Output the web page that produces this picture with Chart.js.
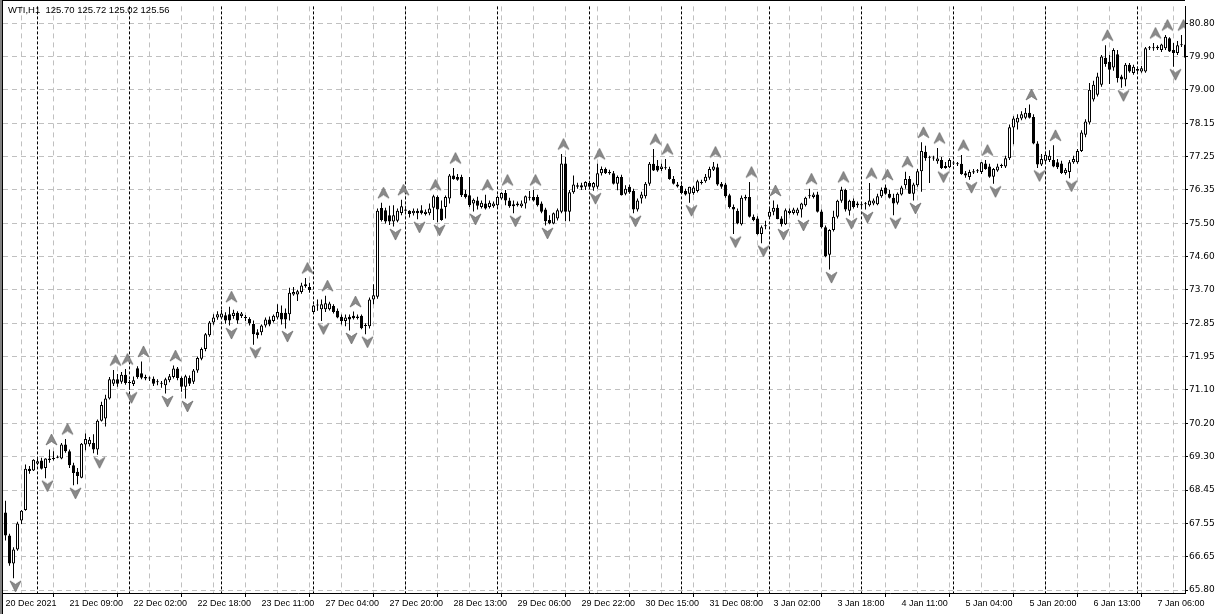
<!DOCTYPE html>
<html lang="en">
<head>
<meta charset="UTF-8">
<meta name="viewport" content="width=device-width, initial-scale=1.0">
<title>WTI,H1</title>
<script src="https://cdn.jsdelivr.net/npm/chart.js"></script>
<style>
    html, body { margin: 0; padding: 0; background: #fff; overflow: hidden; }
    #box { position: relative; width: 1228px; height: 614px; }
    #chart { display: block; }
    #caption {
        position: absolute; left: 8px; top: 4px;
        font: 9.5px/11px "Liberation Sans", Arial, sans-serif;
        color: #000; white-space: pre;
    }
</style>
</head>
<body>
<div id="box">
    <canvas id="chart" width="1228" height="614"></canvas>
    <div id="caption">WTI,H1  125.70 125.72 125.02 125.56</div>
</div>
<script>
// hourly candles, bar 0 = 20 Dec 2021
const opens = [
    67.85, 67.24, 66.50, 66.87, 67.64, 67.92, 69.01, 68.96, 69.14, 69.23,
    69.03, 69.28, 69.27, 69.30, 69.28, 69.65, 69.47, 69.10, 68.93, 68.77,
    69.65, 69.66, 69.69, 69.52, 70.28, 70.34, 70.87, 71.26, 71.38, 71.31,
    71.50, 71.28, 71.25, 71.67, 71.54, 71.44, 71.41, 71.39, 71.32, 71.28,
    71.22, 71.35, 71.44, 71.66, 71.41, 71.18, 71.41, 71.31, 71.61, 71.92,
    72.18, 72.54, 72.88, 73.01, 73.01, 73.07, 73.10, 73.05, 73.14, 73.05,
    73.02, 72.97, 72.84, 72.62, 72.62, 72.80, 72.96, 72.92, 73.01, 73.14,
    73.14, 73.10, 73.62, 73.62, 73.69, 73.84, 73.82, 73.16, 73.34, 73.23,
    73.23, 73.23, 73.32, 73.19, 73.03, 72.92, 73.03, 73.06, 73.00, 73.06,
    72.81, 72.78, 73.49, 73.56, 75.91, 75.85, 75.72, 75.55, 75.57, 75.78,
    75.87, 75.84, 75.77, 75.84, 75.85, 75.75, 75.77, 75.92, 76.20, 75.90,
    75.94, 76.16, 76.77, 76.73, 76.73, 76.29, 76.25, 76.03, 76.11, 75.94,
    76.03, 75.94, 75.96, 75.98, 76.16, 76.31, 76.11, 75.96, 76.03, 75.96,
    76.03, 76.18, 76.20, 76.20, 76.03, 75.87, 75.59, 75.50, 75.63, 75.81,
    77.09, 75.81, 76.33, 76.47, 76.51, 76.47, 76.57, 76.45, 76.47, 76.83,
    76.94, 76.86, 76.83, 76.55, 76.73, 76.29, 76.47, 76.36, 75.87, 76.16,
    76.22, 76.55, 77.08, 77.03, 76.94, 76.97, 76.94, 76.68, 76.53, 76.49,
    76.36, 76.29, 76.31, 76.36, 76.57, 76.62, 76.71, 76.92, 76.99, 76.55,
    76.53, 76.25, 75.94, 75.84, 75.48, 76.16, 76.20, 75.68, 75.63, 75.22,
    75.43, 75.68, 75.81, 75.92, 75.63, 75.48, 75.78, 75.78, 75.77, 75.87,
    75.98, 76.22, 76.20, 76.27, 75.82, 75.40, 74.67, 75.33, 75.68, 76.10,
    76.39, 75.84, 76.10, 76.03, 75.98, 76.01, 75.98, 76.03, 76.01, 76.22,
    76.45, 76.29, 76.18, 76.05, 76.27, 76.51, 76.68, 76.29, 76.51, 76.88,
    77.40, 77.25, 77.22, 77.15, 77.18, 76.97, 76.99, 77.09, 77.08, 77.08,
    76.83, 76.73, 76.85, 76.88, 76.86, 77.09, 77.01, 76.74, 76.90, 77.02,
    77.01, 77.23, 78.04, 78.17, 78.28, 78.30, 78.43, 78.32, 77.62, 77.06,
    77.16, 77.18, 77.18, 77.12, 77.09, 76.84, 76.86, 77.12, 77.12, 77.42,
    77.85, 78.17, 78.78, 78.91, 79.17, 79.89, 79.78, 79.63, 79.98, 79.39,
    79.31, 79.70, 79.48, 79.54, 79.52, 79.52, 80.14, 80.14, 80.14, 80.09,
    80.14, 80.40, 80.09, 80.01, 80.24, 80.24
];
const highs = [
    68.16, 67.29, 66.93, 67.61, 67.92, 69.12, 69.08, 69.26, 69.29, 69.30,
    69.29, 69.52, 69.47, 69.36, 69.69, 69.80, 69.52, 69.17, 69.03, 69.69,
    69.94, 69.85, 69.92, 70.31, 70.78, 70.97, 71.44, 71.62, 71.52, 71.57,
    71.65, 71.36, 71.45, 71.72, 71.85, 71.50, 71.45, 71.45, 71.38, 71.33,
    71.42, 71.52, 71.74, 71.70, 71.45, 71.50, 71.48, 71.65, 71.98, 72.22,
    72.60, 72.92, 73.10, 73.18, 73.22, 73.15, 73.30, 73.22, 73.18, 73.16,
    73.08, 73.02, 72.93, 72.70, 72.83, 73.01, 73.04, 73.09, 73.36, 73.33,
    73.25, 73.80, 73.82, 73.75, 73.93, 74.06, 73.93, 73.35, 73.49, 73.49,
    73.59, 73.43, 73.36, 73.25, 73.09, 73.09, 73.09, 73.17, 73.09, 73.09,
    72.86, 73.54, 73.89, 75.90, 76.05, 75.92, 75.97, 75.98, 75.90, 76.13,
    75.95, 75.85, 75.90, 75.90, 75.98, 75.87, 76.03, 76.26, 76.24, 76.11,
    76.24, 76.81, 76.97, 76.81, 76.79, 76.39, 76.73, 76.16, 76.21, 76.11,
    76.26, 76.11, 76.08, 76.24, 76.33, 76.39, 76.18, 76.11, 76.08, 76.11,
    76.24, 76.36, 76.39, 76.26, 76.08, 75.92, 75.72, 75.79, 75.90, 77.34,
    77.26, 76.39, 76.77, 76.58, 76.58, 76.62, 76.63, 76.60, 77.08, 77.01,
    76.98, 76.92, 76.89, 76.77, 76.79, 76.51, 76.53, 76.42, 76.16, 76.34,
    76.60, 77.13, 77.47, 77.18, 77.08, 77.21, 77.00, 76.76, 76.60, 76.53,
    76.42, 76.47, 76.50, 76.66, 76.66, 76.81, 77.00, 77.13, 77.08, 76.60,
    76.58, 76.29, 76.00, 75.90, 76.24, 76.26, 76.60, 75.74, 75.69, 75.45,
    75.57, 75.90, 76.11, 76.00, 75.69, 75.90, 75.90, 75.92, 75.92, 76.05,
    76.21, 76.42, 76.32, 76.34, 75.87, 75.45, 75.35, 75.84, 76.13, 76.47,
    76.42, 76.13, 76.16, 76.08, 76.03, 76.07, 76.57, 76.16, 76.29, 76.45,
    76.53, 76.39, 76.29, 76.32, 76.50, 76.87, 76.76, 76.58, 76.94, 77.65,
    77.56, 77.29, 77.29, 77.50, 77.26, 77.13, 77.23, 77.16, 77.13, 77.31,
    76.89, 76.92, 76.94, 76.94, 77.13, 77.18, 77.08, 76.97, 77.08, 77.08,
    77.29, 78.12, 78.34, 78.39, 78.47, 78.56, 78.65, 78.39, 77.68, 77.34,
    77.39, 77.44, 77.57, 77.21, 77.16, 76.97, 77.18, 77.29, 77.47, 77.97,
    78.26, 79.22, 79.28, 79.49, 79.96, 80.22, 79.96, 80.14, 80.09, 79.44,
    79.75, 79.75, 79.70, 79.65, 79.67, 80.17, 80.20, 80.28, 80.22, 80.26,
    80.49, 80.43, 80.28, 80.33, 80.49, 80.33
];
const lows = [
    67.11, 66.44, 66.11, 66.84, 67.55, 67.90, 68.88, 68.95, 69.10, 68.99,
    68.76, 69.17, 69.23, 69.29, 69.26, 69.43, 69.03, 68.57, 68.60, 68.76,
    69.50, 69.60, 69.42, 69.38, 70.26, 70.13, 70.84, 71.20, 71.18, 71.26,
    71.23, 71.10, 71.20, 71.39, 71.38, 71.35, 71.33, 71.20, 71.22, 71.15,
    71.00, 71.30, 71.40, 71.35, 71.05, 70.87, 71.20, 71.25, 71.55, 71.88,
    72.12, 72.50, 72.82, 72.95, 72.98, 72.85, 72.80, 72.98, 72.85, 73.00,
    72.92, 72.80, 72.29, 72.46, 72.54, 72.75, 72.78, 72.88, 72.96, 72.83,
    72.72, 72.93, 73.59, 73.45, 73.64, 73.80, 73.67, 73.12, 73.19, 72.92,
    73.16, 73.20, 73.12, 72.99, 72.83, 72.78, 72.67, 72.96, 72.96, 72.70,
    72.57, 72.72, 73.36, 73.51, 75.55, 75.50, 75.46, 75.42, 75.53, 75.72,
    75.82, 75.66, 75.71, 75.61, 75.74, 75.71, 75.72, 75.59, 75.53, 75.57,
    75.63, 76.03, 76.66, 76.63, 76.20, 76.16, 75.94, 75.82, 75.87, 75.90,
    75.87, 75.90, 75.92, 75.95, 76.13, 75.98, 75.92, 75.77, 75.95, 75.92,
    75.90, 76.11, 76.08, 75.95, 75.77, 75.45, 75.48, 75.48, 75.58, 75.77,
    75.56, 75.56, 76.29, 76.42, 76.39, 76.39, 76.42, 76.37, 76.42, 76.77,
    76.81, 76.79, 76.53, 76.38, 76.24, 76.25, 76.29, 75.77, 75.82, 76.03,
    76.16, 76.50, 76.89, 76.87, 76.89, 76.92, 76.66, 76.53, 76.45, 76.29,
    76.24, 76.05, 76.26, 76.32, 76.53, 76.58, 76.66, 76.89, 76.50, 76.42,
    76.18, 75.90, 75.22, 75.48, 75.45, 76.11, 75.66, 75.56, 75.20, 74.98,
    75.35, 75.63, 75.72, 75.61, 75.42, 75.46, 75.74, 75.74, 75.71, 75.66,
    75.95, 76.16, 76.16, 75.79, 75.37, 74.61, 74.28, 75.29, 75.63, 76.05,
    75.82, 75.71, 75.90, 75.92, 75.92, 75.87, 75.95, 75.98, 75.98, 76.18,
    76.26, 76.16, 75.72, 76.00, 76.24, 76.42, 76.28, 76.11, 76.47, 76.34,
    77.16, 76.57, 77.16, 77.08, 76.94, 76.95, 76.97, 77.05, 77.02, 76.79,
    76.71, 76.66, 76.81, 76.84, 76.81, 76.92, 76.71, 76.55, 76.87, 76.97,
    76.97, 77.18, 77.60, 77.99, 78.23, 78.26, 78.28, 77.60, 76.97, 77.02,
    77.13, 77.13, 76.99, 76.94, 76.81, 76.79, 76.70, 77.08, 77.08, 77.39,
    77.78, 78.12, 78.73, 78.86, 79.12, 79.65, 79.19, 79.54, 79.23, 79.09,
    79.13, 79.49, 79.44, 79.49, 79.49, 79.49, 80.09, 80.07, 80.09, 80.04,
    80.09, 80.04, 79.65, 79.96, 80.17, 79.86
];
const closes = [
    67.24, 66.50, 66.87, 67.56, 67.90, 69.01, 68.95, 69.25, 69.21, 69.01,
    69.28, 69.24, 69.29, 69.33, 69.65, 69.47, 69.10, 68.90, 68.82, 69.67,
    69.80, 69.78, 69.52, 70.28, 70.70, 70.87, 71.38, 71.38, 71.26, 71.50,
    71.28, 71.29, 71.35, 71.44, 71.42, 71.40, 71.40, 71.26, 71.30, 71.26,
    71.38, 71.46, 71.66, 71.41, 71.18, 71.46, 71.26, 71.61, 71.94, 72.18,
    72.57, 72.88, 73.01, 73.10, 73.12, 72.93, 72.93, 73.14, 72.93, 73.12,
    73.00, 72.86, 72.57, 72.55, 72.80, 72.96, 72.83, 73.06, 73.16, 72.96,
    72.96, 73.67, 73.69, 73.71, 73.86, 73.89, 73.74, 73.33, 73.33, 73.36,
    73.39, 73.38, 73.16, 73.01, 72.92, 73.01, 72.96, 72.99, 73.04, 72.73,
    72.79, 73.49, 73.60, 75.84, 75.59, 75.55, 75.55, 75.72, 75.84, 75.96,
    75.84, 75.75, 75.84, 75.77, 75.77, 75.81, 75.90, 76.22, 75.87, 75.59,
    76.20, 76.77, 76.68, 76.66, 76.25, 76.20, 75.98, 76.13, 75.97, 76.05,
    75.90, 76.05, 76.03, 76.20, 76.31, 76.11, 75.96, 76.01, 75.98, 76.03,
    76.22, 76.20, 76.11, 75.98, 75.81, 75.56, 75.50, 75.77, 75.85, 77.09,
    75.81, 76.33, 76.53, 76.51, 76.45, 76.60, 76.47, 76.57, 76.83, 76.94,
    76.83, 76.83, 76.55, 76.73, 76.25, 76.42, 76.33, 75.87, 76.11, 76.27,
    76.55, 77.08, 76.90, 76.90, 77.01, 76.96, 76.68, 76.55, 76.48, 76.31,
    76.27, 76.47, 76.45, 76.62, 76.60, 76.74, 76.94, 77.01, 76.53, 76.47,
    76.22, 75.94, 75.87, 75.50, 76.18, 76.20, 75.68, 75.59, 75.22, 75.40,
    75.44, 75.81, 75.92, 75.62, 75.48, 75.85, 75.84, 75.87, 75.87, 76.03,
    76.18, 76.25, 76.27, 75.81, 75.40, 74.64, 75.33, 75.68, 76.10, 76.39,
    75.87, 76.10, 75.94, 75.98, 76.00, 76.03, 76.11, 76.11, 76.22, 76.39,
    76.29, 76.18, 76.03, 76.29, 76.45, 76.68, 76.29, 76.53, 76.88, 77.42,
    77.23, 77.24, 77.23, 77.22, 76.97, 77.02, 77.18, 77.11, 77.07, 76.81,
    76.77, 76.86, 76.88, 76.89, 77.12, 76.94, 76.74, 76.94, 77.01, 77.03,
    77.23, 78.05, 78.28, 78.30, 78.39, 78.43, 78.30, 77.62, 77.06, 77.21,
    77.32, 77.29, 77.01, 76.99, 76.84, 76.92, 77.12, 77.21, 77.42, 77.91,
    78.20, 79.04, 79.17, 79.39, 79.92, 79.72, 79.57, 80.09, 79.35, 79.31,
    79.70, 79.52, 79.65, 79.59, 79.61, 80.14, 80.16, 80.15, 80.18, 80.24,
    80.44, 80.05, 80.01, 80.22, 80.22, 79.89
];

// bars carrying a fractal arrow
const upFractals = [11, 15, 27, 30, 34, 42, 56, 75, 80, 87, 94, 99, 107, 112, 120, 125, 132, 139, 148,
    162, 165, 177, 186, 192, 201, 209, 216, 220, 225, 229, 233, 239, 245, 256, 262, 275, 287, 290, 294];
const downFractals = [2, 10, 17, 23, 31, 40, 45, 56, 62, 70, 79, 86, 90, 97, 103, 108, 117, 127, 135, 147,
    157, 171, 182, 189, 194, 199, 206, 211, 215, 222, 227, 234, 241, 247, 258, 266, 279, 292];

// first bar of each trading day (period separators)
const daySeparators = [8, 31, 54, 77, 100, 123, 146, 169, 191, 214, 237, 260, 283];

// time labels every 16 bars
const xTickLabels = ['20 Dec 2021', '21 Dec 09:00', '22 Dec 02:00', '22 Dec 18:00', '23 Dec 11:00',
    '27 Dec 04:00', '27 Dec 20:00', '28 Dec 13:00', '29 Dec 06:00', '29 Dec 22:00', '30 Dec 15:00',
    '31 Dec 08:00', '3 Jan 02:00', '3 Jan 18:00', '4 Jan 11:00', '5 Jan 04:00', '5 Jan 20:00',
    '6 Jan 13:00', '7 Jan 06:00'];
// price labels, bottom to top
const yTickLabels = ['65.80', '66.65', '67.55', '68.45', '69.30', '70.20', '71.10', '71.95', '72.85',
    '73.70', '74.60', '75.50', '76.35', '77.25', '78.15', '79.00', '79.90', '80.80'];

const idx = opens.map((_, i) => i);
const wickData = idx.map(i => ({ x: i, y: [lows[i], highs[i]] }));
const bodyData = idx.map(i => ({ x: i, y: [opens[i], closes[i]] }));
const bodyColors = idx.map(i => closes[i] >= opens[i] ? '#ffffff' : '#000000');
const upData = upFractals.map(i => ({ x: i, y: highs[i] }));
const downData = downFractals.map(i => ({ x: i, y: lows[i] }));

const yLo = parseFloat(yTickLabels[0]);
const yHi = parseFloat(yTickLabels[yTickLabels.length - 1]);
const yStep = (yHi - yLo) / (yTickLabels.length - 1);
const yTickValues = yTickLabels.map((_, k) => yLo + k * yStep);
const xGridBars = [];
for (let v = 0; v <= opens.length - 1; v += 8) xGridBars.push(v);

function fractalArrow(up) {
    const c = document.createElement('canvas');
    c.width = 17;
    c.height = 41;
    const g = c.getContext('2d');
    const cx = 10.5, cy = up ? 10.5 : 28.5, d = up ? 1 : -1;
    g.fillStyle = '#8a8a8a';
    g.strokeStyle = '#6e6e6e';
    g.lineWidth = 0.8;
    g.beginPath();
    g.moveTo(cx, cy - 5.5 * d);
    g.lineTo(cx + 5.5, cy + 5.5 * d);
    g.lineTo(cx, cy + 2 * d);
    g.lineTo(cx - 5.5, cy + 5.5 * d);
    g.closePath();
    g.fill();
    g.stroke();
    return c;
}

const chartFrame = {
    id: 'chartFrame',
    beforeDatasetsDraw(chart) {
        const { ctx, chartArea: a, scales: { x } } = chart;
        ctx.save();
        ctx.strokeStyle = '#000';
        ctx.lineWidth = 1;
        ctx.setLineDash([3, 2]);
        daySeparators.forEach(i => {
            const px = Math.floor(x.getPixelForValue(i)) + 0.5;
            ctx.beginPath();
            ctx.moveTo(px, a.top);
            ctx.lineTo(px, a.bottom);
            ctx.stroke();
        });
        ctx.restore();
    },
    afterDraw(chart) {
        const ctx = chart.ctx;
        ctx.save();
        ctx.fillStyle = '#808080';
        ctx.fillRect(0, 0, 2, chart.height);
        ctx.fillStyle = '#000';
        ctx.fillRect(2, 0, 1, chart.height);
        ctx.fillRect(2, 0, chart.chartArea.right - 2, 1);
        ctx.restore();
    }
};

new Chart(document.getElementById('chart'), {
    type: 'bar',
    data: {
        datasets: [
            {
                type: 'line', data: upData, showLine: false, pointStyle: fractalArrow(true),
                pointRadius: 3, pointHoverRadius: 3, order: 1
            },
            {
                type: 'line', data: downData, showLine: false, pointStyle: fractalArrow(false),
                pointRadius: 3, pointHoverRadius: 3, order: 1
            },
            {
                data: bodyData, backgroundColor: bodyColors, borderColor: '#000', borderWidth: 1,
                borderSkipped: false, barThickness: 3, grouped: false, minBarLength: 1,
                inflateAmount: 0, order: 2
            },
            {
                data: wickData, backgroundColor: '#000', borderWidth: 0, barThickness: 1,
                grouped: false, inflateAmount: 0, order: 3
            }
        ]
    },
    options: {
        responsive: false,
        animation: false,
        events: [],
        layout: { padding: { left: 3, top: 1, right: 0, bottom: 0 }, autoPadding: false },
        plugins: { legend: { display: false }, tooltip: { enabled: false } },
        scales: {
            x: {
                type: 'linear',
                min: -0.625,
                max: 294.875,
                offset: false,
                afterBuildTicks: s => { s.ticks = xGridBars.map(v => ({ value: v })); },
                afterFit: s => { s.height = 21; },
                grid: {
                    color: '#c0c0c0',
                    tickLength: 4,
                    tickColor: c => (c.tick && c.tick.value % 16 === 0) ? '#000' : 'rgba(0,0,0,0)',
                    tickBorderDash: []
                },
                border: { color: '#000', dash: [5, 4] },
                ticks: {
                    autoSkip: false, maxRotation: 0, minRotation: 0, align: 'start', padding: 1,
                    color: '#000', font: { family: 'Liberation Sans', size: 9 },
                    callback: v => v % 16 === 0 ? xTickLabels[v / 16] : ''
                }
            },
            y: {
                type: 'linear',
                position: 'right',
                min: 65.7213,
                max: 81.2458,
                afterBuildTicks: s => { s.ticks = yTickValues.map(v => ({ value: v })); },
                afterFit: s => { s.width = 43; },
                grid: { color: '#c0c0c0', tickLength: 3, tickColor: '#000', tickBorderDash: [] },
                border: { color: '#000', dash: [5, 4] },
                ticks: {
                    padding: 1, color: '#000', font: { family: 'DejaVu Sans', size: 9 },
                    callback: (v, i) => yTickLabels[i]
                }
            }
        }
    },
    plugins: [chartFrame]
});
</script>
</body>
</html>
